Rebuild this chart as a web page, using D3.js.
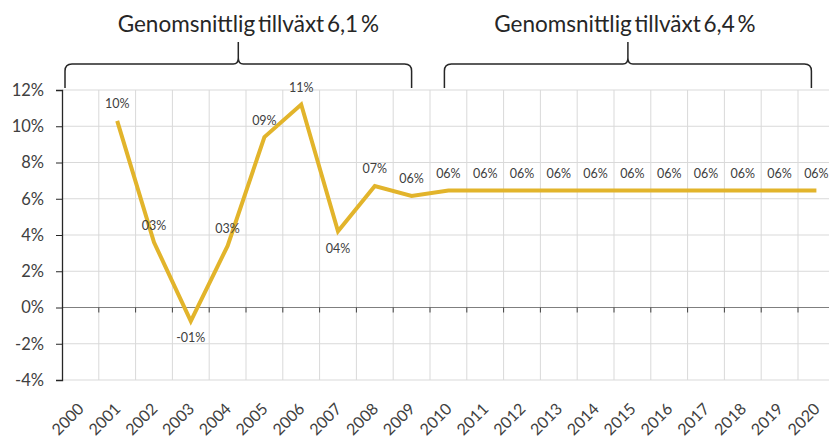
<!DOCTYPE html>
<html>
<head>
<meta charset="utf-8">
<script src="https://cdn.jsdelivr.net/npm/d3@7"></script>
<style>
  html, body { margin: 0; padding: 0; background: #fff; }
  svg { display: block; font-family: Lato, "Open Sans", sans-serif; }
</style>
</head>
<body>
<svg id="chart" width="829" height="437"></svg>
<script>
// ---- data ----
const years = ["2000","2001","2002","2003","2004","2005","2006","2007","2008","2009","2010",
               "2011","2012","2013","2014","2015","2016","2017","2018","2019","2020"];
const growth = [null, 10.3, 3.6, -0.75, 3.4, 9.4, 11.2, 4.2, 6.7, 6.15, 6.45,
                6.45, 6.45, 6.45, 6.45, 6.45, 6.45, 6.45, 6.45, 6.45, 6.45];
const valueLabels = [null, "10%", "03%", "-01%", "03%", "09%", "11%", "04%", "07%", "06%", "06%",
                     "06%", "06%", "06%", "06%", "06%", "06%", "06%", "06%", "06%", "06%"];
const labelBelow = [false, false, false, true, false, false, false, true, false, false, false,
                    false, false, false, false, false, false, false, false, false, false];
const yTicks = [-4, -2, 0, 2, 4, 6, 8, 10, 12];
const periods = [
  { from: "2000", to: "2009", text: "Genomsnittlig tillväxt 6,1 %" },
  { from: "2010", to: "2020", text: "Genomsnittlig tillväxt 6,4 %" }
];

(function () {
// ---- layout ----
const svg = d3.select("#chart");
const left = 62, plotTop = 90, plotBottom = 380, bandW = 36.8;
const x = d3.scaleBand().domain(years).range([left, left + bandW * years.length]).padding(0);
const y = d3.scaleLinear().domain([-4, 12]).range([plotBottom, plotTop]);
const cx = d => x(d) + x.bandwidth() / 2;
const textColor = "#404040";

// horizontal gridlines
svg.append("g").selectAll("line").data(yTicks).join("line")
  .attr("x1", left).attr("x2", x.range()[1])
  .attr("y1", d => y(d)).attr("y2", d => y(d))
  .attr("stroke", "#d9d9d9").attr("stroke-width", 1);

// vertical gridlines at band boundaries
svg.append("g").selectAll("line").data(years.slice(1)).join("line")
  .attr("x1", d => x(d)).attr("x2", d => x(d))
  .attr("y1", plotTop).attr("y2", plotBottom)
  .attr("stroke", "#d9d9d9").attr("stroke-width", 1);

// zero axis line with tick marks
const zeroG = svg.append("g");
zeroG.append("line")
  .attr("x1", left).attr("x2", x.range()[1])
  .attr("y1", y(0)).attr("y2", y(0))
  .attr("stroke", "#7f7f7f").attr("stroke-width", 1.2);
zeroG.selectAll("line.tk").data(years.slice(1)).join("line").attr("class", "tk")
  .attr("x1", d => x(d)).attr("x2", d => x(d))
  .attr("y1", y(0)).attr("y2", y(0) + 5)
  .attr("stroke", "#404040").attr("stroke-width", 1);

// y axis
const yAxis = d3.axisLeft(y).tickValues(yTicks).tickSize(6).tickPadding(12)
  .tickFormat(d => d + "%");
const yg = svg.append("g").attr("transform", `translate(${left},0)`).call(yAxis);
yg.select(".domain").attr("stroke", "#262626").attr("stroke-width", 1.3);
yg.selectAll(".tick line").attr("stroke", "#262626");
yg.selectAll(".tick text").attr("fill", textColor)
  .style("font-size", "16.5px").style("font-family", "Lato, sans-serif");

// x labels (rotated)
svg.append("g").selectAll("text").data(years).join("text")
  .attr("transform", d => `translate(${cx(d) + 0.5},${plotBottom + 26}) rotate(-45)`)
  .attr("text-anchor", "end")
  .attr("dy", "0.35em")
  .attr("fill", textColor)
  .style("font-size", "16px")
  .text(d => d);

// line
const pts = years.map((d, i) => ({ year: d, v: growth[i], lab: valueLabels[i], below: labelBelow[i] }))
  .filter(p => p.v !== null);
const line = d3.line().x(p => cx(p.year)).y(p => y(p.v));
svg.append("path").datum(pts)
  .attr("d", line)
  .attr("fill", "none")
  .attr("stroke", "#E2B42B")
  .attr("stroke-width", 4)
  .attr("stroke-linejoin", "miter");

// data labels
svg.append("g").selectAll("text").data(pts).join("text")
  .attr("x", p => cx(p.year))
  .attr("y", p => y(p.v) + (p.below ? 17 : -17))
  .attr("text-anchor", "middle")
  .attr("dy", "0.35em")
  .attr("fill", textColor)
  .style("font-size", "12.5px")
  .text(p => p.lab);

// braces + titles
function bracePath(x0, x1, yb, yh, yp) {
  const m = (x0 + x1) / 2, r = 7;
  return `M${x0},${yb} L${x0},${yh + r} Q${x0},${yh} ${x0 + r},${yh} ` +
         `L${m - 5},${yh} Q${m},${yh} ${m},${yh - 6} L${m},${yp} ` +
         `M${m},${yh - 6} Q${m},${yh} ${m + 5},${yh} ` +
         `L${x1 - r},${yh} Q${x1},${yh} ${x1},${yh + r} L${x1},${yb}`;
}
const braceX = [
  [left + 3, cx("2009")],
  [cx("2010") - 4, cx("2020") - 5]
];
const titleShift = [10, -3];
periods.forEach((p, i) => {
  const [x0, x1] = braceX[i];
  svg.append("path")
    .attr("d", bracePath(x0, x1, 88, 64, 42))
    .attr("fill", "none").attr("stroke", "#262626").attr("stroke-width", 1.5);
  svg.append("text")
    .attr("x", (x0 + x1) / 2 + titleShift[i]).attr("y", 24)
    .attr("text-anchor", "middle").attr("dy", "0.35em")
    .attr("fill", "#262626")
    .style("font-size", "22.5px")
    .style("word-spacing", "-3px")
    .text(p.text);
});
})();
</script>
</body>
</html>
